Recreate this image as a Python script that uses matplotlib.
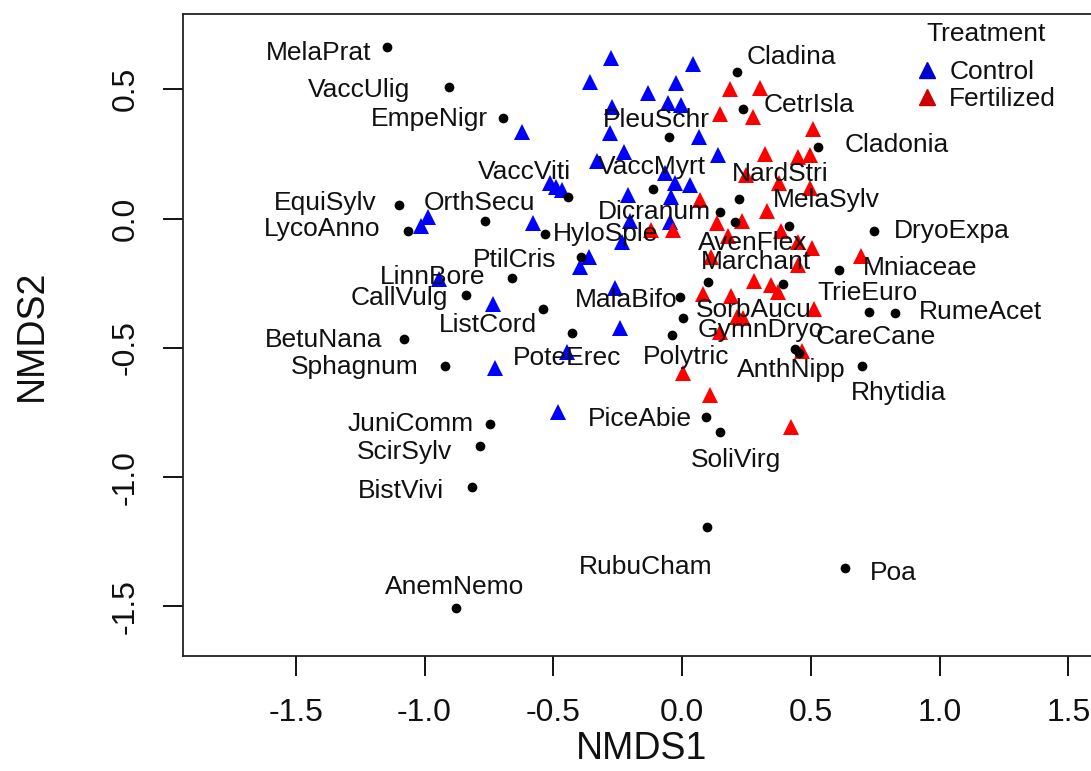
import matplotlib
matplotlib.use("Agg")
import matplotlib.pyplot as plt
from matplotlib.lines import Line2D

plt.rcParams["font.family"] = ["Liberation Sans", "DejaVu Sans"]
plt.rcParams["axes.unicode_minus"] = False

# species scores (NMDS1, NMDS2)
species = ["MelaPrat", "VaccUlig", "EmpeNigr", "Cladina", "CetrIsla", "PleuSchr",
           "Cladonia", "VaccMyrt", "VaccViti", "NardStri", "Dicranum", "AvenFlex",
           "MelaSylv", "DryoExpa", "EquiSylv", "LycoAnno", "OrthSecu", "HyloSple",
           "PtilCris", "LinnBore", "CallVulg", "ListCord", "PoteErec", "BetuNana",
           "Mniaceae", "Marchant", "SorbAucu", "MalaBifo", "GymnDryo", "TrieEuro",
           "RumeAcet", "Polytric", "CareCane", "AnthNipp", "Sphagnum", "Rhytidia",
           "JuniComm", "ScirSylv", "BistVivi", "PiceAbie", "SoliVirg", "RubuCham",
           "Poa", "AnemNemo"]
sp_x = [-1.146, -0.905, -0.695, 0.214, 0.237, -0.050,
        0.528, -0.113, -0.443, 0.221, 0.148, 0.206,
        0.416, 0.746, -1.099, -1.064, -0.765, -0.532,
        -0.392, -0.660, -0.839, -0.540, -0.427, -1.080,
        0.610, 0.101, 0.392, -0.008, 0.004, 0.726,
        0.827, -0.039, 0.439, 0.454, -0.920, 0.699,
        -0.746, -0.784, -0.816, 0.093, 0.148, 0.097,
        0.633, -0.878]
sp_y = [0.663, 0.509, 0.389, 0.567, 0.424, 0.315,
        0.277, 0.114, 0.083, 0.075, 0.025, -0.014,
        -0.029, -0.048, 0.052, -0.048, -0.010, -0.060,
        -0.149, -0.230, -0.296, -0.350, -0.443, -0.466,
        -0.199, -0.246, -0.253, -0.304, -0.385, -0.362,
        -0.366, -0.451, -0.505, -0.520, -0.571, -0.571,
        -0.795, -0.880, -1.039, -0.768, -0.826, -1.193,
        -1.352, -1.507]

# site scores by treatment
ctrl_x = [-0.276, 0.043, -0.357, -0.023, -0.132, -0.054, -0.004, -0.272, -0.621, -0.280,
          0.066, -0.225, 0.140, -0.330, -0.066, -0.027, 0.031, -0.043, -0.210, -0.513,
          -0.489, -0.466, -0.202, -0.047, -0.233, -0.579, -0.986, -1.014, -0.361, -0.396,
          -0.944, -0.734, -0.260, -0.241, -0.447, -0.726, -0.482]
ctrl_y = [0.621, 0.598, 0.528, 0.524, 0.486, 0.447, 0.439, 0.431, 0.335, 0.331,
          0.315, 0.257, 0.246, 0.222, 0.176, 0.137, 0.130, 0.083, 0.091, 0.137,
          0.122, 0.110, -0.010, -0.014, -0.091, -0.017, 0.006, -0.029, -0.149, -0.188,
          -0.234, -0.331, -0.269, -0.424, -0.516, -0.578, -0.749]
fert_x = [0.186, 0.303, 0.148, 0.276, 0.509, 0.322, 0.450, 0.497, 0.249, 0.377,
          0.497, 0.070, 0.330, 0.136, 0.233, -0.120, -0.035, 0.179, 0.384, 0.450,
          0.505, 0.695, 0.113, 0.450, 0.280, 0.346, 0.373, 0.082, 0.190, 0.513,
          0.214, 0.237, 0.148, 0.466, 0.004, 0.109, 0.423]
fert_y = [0.501, 0.505, 0.404, 0.393, 0.346, 0.250, 0.238, 0.246, 0.168, 0.137,
          0.118, 0.072, 0.029, -0.017, -0.010, -0.044, -0.044, -0.068, -0.048, -0.091,
          -0.114, -0.145, -0.149, -0.180, -0.242, -0.257, -0.284, -0.292, -0.300, -0.350,
          -0.381, -0.385, -0.439, -0.513, -0.598, -0.683, -0.807]

# label placement around each species point (pixels, up = positive)
label_off = {
    "MelaPrat": (-68, -6), "VaccUlig": (-90, -3), "EmpeNigr": (-74, -1),
    "Cladina": (54, 15), "CetrIsla": (66, 4), "PleuSchr": (-13, 17),
    "Cladonia": (79, 2), "VaccMyrt": (-1, 22), "VaccViti": (-44, 25),
    "NardStri": (41, 25), "Dicranum": (-66, 0), "AvenFlex": (18, -21),
    "MelaSylv": (37, 26), "DryoExpa": (78, 0), "EquiSylv": (-74, 2),
    "LycoAnno": (-86, 2), "OrthSecu": (-6, 18), "HyloSple": (61, 0),
    "PtilCris": (-66, -3), "LinnBore": (-79, 1), "CallVulg": (-67, -3),
    "ListCord": (-55, -16), "PoteErec": (-5, -25), "BetuNana": (-80, -1),
    "Mniaceae": (81, 2), "Marchant": (48, 20), "SorbAucu": (-29, -26),
    "MalaBifo": (-54, -3), "GymnDryo": (78, -12), "TrieEuro": (-2, 19),
    "RumeAcet": (85, 1), "Polytric": (14, -22), "CareCane": (81, 12),
    "AnthNipp": (-8, -17), "Sphagnum": (-90, -1), "Rhytidia": (37, -27),
    "JuniComm": (-79, 0), "ScirSylv": (-76, -6), "BistVivi": (-71, -4),
    "PiceAbie": (-66, -2), "SoliVirg": (16, -28), "RubuCham": (-61, -40),
    "Poa": (48, -5), "AnemNemo": (-1, 21),
}

W, H = 1091, 771
fig = plt.figure(figsize=(W / 100, H / 100), dpi=100)
ax = fig.add_axes([183 / W, (H - 656) / H, (1100 - 183) / W, (656 - 14) / H])
ax.set_xlim(-1.938, 1.623)
ax.set_ylim(-1.692, 0.791)

ax.plot(ctrl_x, ctrl_y, "^", color="#0000FF", markersize=11, markeredgewidth=0, zorder=2)
ax.plot(fert_x, fert_y, "^", color="#FF0000", markersize=11, markeredgewidth=0, zorder=2)
ax.plot(sp_x, sp_y, "o", color="black", markersize=7, markeredgewidth=0, zorder=3)

px = 0.72  # pixels -> points at 100 dpi
for name, x, y in zip(species, sp_x, sp_y):
    dx, dy = label_off[name]
    ax.annotate(name, (x, y), xytext=(dx * px, dy * px), textcoords="offset points",
                ha="center", va="center", fontsize=19, color="#111111", zorder=4)

ax.set_xticks([-1.5, -1.0, -0.5, 0.0, 0.5, 1.0, 1.5])
ax.set_yticks([-1.5, -1.0, -0.5, 0.0, 0.5])
ax.tick_params(axis="both", length=14.4, width=1.3, labelsize=23, pad=16,
               labelcolor="#111111")
ax.tick_params(axis="y", labelrotation=90)
for lab in ax.get_yticklabels():
    lab.set_va("center")
for sp in ax.spines.values():
    sp.set_linewidth(1.3)
    sp.set_color("#222222")

ax.set_xlabel("NMDS1", fontsize=27, labelpad=2, color="#111111")
ax.set_ylabel("NMDS2", fontsize=27, labelpad=44, color="#111111")

handles = [Line2D([], [], marker="^", linestyle="", color="#0000CC", markersize=11),
           Line2D([], [], marker="^", linestyle="", color="#CC0000", markersize=11)]
leg = ax.legend(handles, ["Control", "Fertilized"], title="Treatment", frameon=False,
                loc="upper left", bbox_to_anchor=(915 / W, 1 - 22 / H),
                bbox_transform=fig.transFigure, fontsize=19, title_fontsize=19,
                handlelength=0.9, handletextpad=0.4, labelspacing=0.13, borderpad=0,
                borderaxespad=0)
leg._legend_box.sep = 10
for t in leg.get_texts():
    t.set_color("#111111")
leg.get_title().set_color("#111111")

fig.savefig("out.png", dpi=100)
